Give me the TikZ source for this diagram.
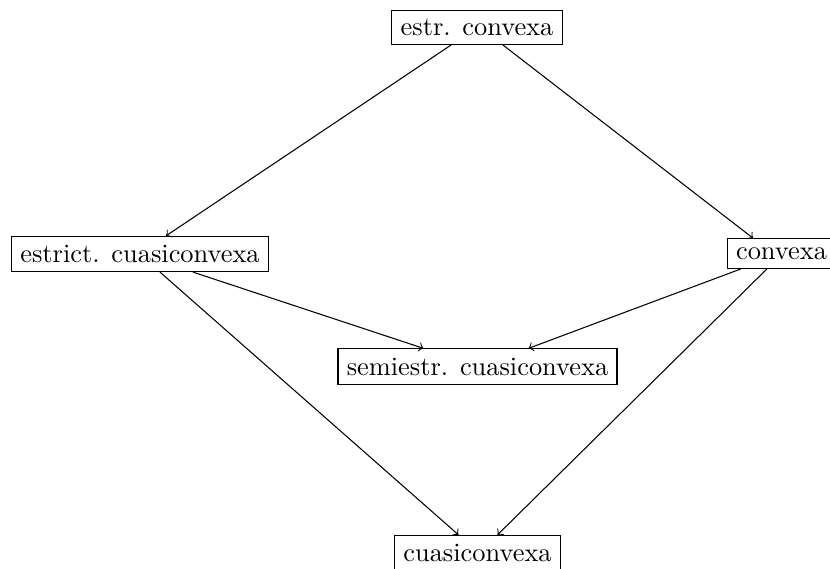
\documentclass[tikz,border=0pt]{standalone}
\usetikzlibrary{calc}
\begin{document}
\begin{tikzpicture}[x=0.379pt,y=-0.379pt,
  box/.style={draw, rectangle},
  arr/.style={->}]
\useasboundingbox (0,0) rectangle (830,569);
\node[box] (A) at (477,27.5) {estr. convexa};
\node[box] (B) at (140,254) {estrict. cuasiconvexa};
\node[box] (C) at (781.5,253.5) {convexa};
\node[box] (D) at (477.5,366.5) {semiestr. cuasiconvexa};
\node[box] (E) at (477.5,553) {cuasiconvexa};
\draw[arr] ($(A.south)+(-26,0)$) -- ($(B.north)+(26,0)$);
\draw[arr] ($(A.south)+(26,0)$) -- ($(C.north)+(-28.5,0)$);
\draw[arr] ($(B.south)+(20,0)$) -- ($(E.north)+(-19,0)$);
\draw[arr] ($(B.south)+(53,0)$) -- ($(D.north)+(-54,0)$);
\draw[arr] ($(C.south)+(-40.5,0)$) -- ($(D.north)+(51,0)$);
\draw[arr] ($(C.south)+(-14.5,0)$) -- ($(E.north)+(20,0)$);
\end{tikzpicture}
\end{document}
